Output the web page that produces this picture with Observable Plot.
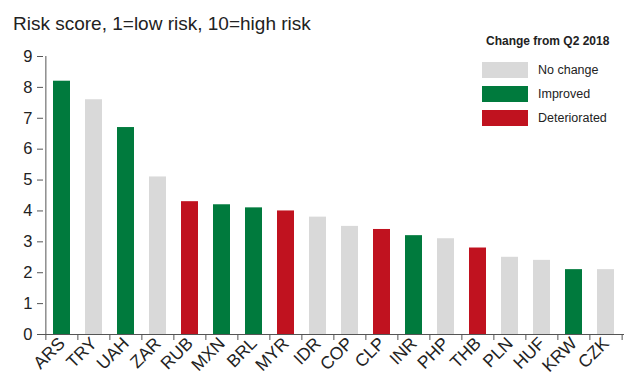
<!DOCTYPE html>
<html>
<head>
<meta charset="utf-8">
<script src="https://cdn.jsdelivr.net/npm/d3@7"></script>
<script src="https://cdn.jsdelivr.net/npm/@observablehq/plot@0.6"></script>
<style>
  body { margin: 0; background: #fff; font-family: "Liberation Sans", Arial, sans-serif; }
  #wrap { position: relative; width: 630px; height: 389px; overflow: hidden; }
  #title { position: absolute; left: 13px; top: 13px; font-size: 19px; color: #222; white-space: nowrap; }
  #chart { position: absolute; left: 0; top: 40px; }
  #legend { position: absolute; left: 482px; top: 34px; font-size: 12.5px; color: #222; }
  #legend .lt { font-weight: bold; font-size: 12px; margin-left: 4px; margin-bottom: 14px; white-space: nowrap; }
  #legend .row { display: flex; align-items: center; height: 16px; margin-bottom: 8px; white-space: nowrap; }
  #legend .sw { width: 46px; height: 16px; margin-right: 10px; }
</style>
</head>
<body>
<div id="wrap">
  <div id="title">Risk score, 1=low risk, 10=high risk</div>
  <div id="chart"></div>
  <div id="legend"></div>
</div>
<script>
const currencies = ["ARS","TRY","UAH","ZAR","RUB","MXN","BRL","MYR","IDR","COP","CLP","INR","PHP","THB","PLN","HUF","KRW","CZK"];
const scores = [8.2,7.6,6.7,5.1,4.3,4.2,4.1,4.0,3.8,3.5,3.4,3.2,3.1,2.8,2.5,2.4,2.1,2.1];
const changes = ["Improved","No change","Improved","No change","Deteriorated","Improved","Improved","Deteriorated","No change","No change","Deteriorated","Improved","No change","Deteriorated","No change","No change","Improved","No change"];
const legendTitle = "Change from Q2 2018";
const changeTypes = ["No change","Improved","Deteriorated"];
const changeColors = ["#d9d9d9","#007a3d","#c0121f"];
const yTicks = [0,1,2,3,4,5,6,7,8,9];

const data = currencies.map((c, i) => ({currency: c, score: scores[i], change: changes[i]}));

const W = 630, H = 349, ML = 43, MR = 6, MT = 16, MB = 55;
const step = (W - ML - MR) / currencies.length;
const axisColor = "#555";

const chart = Plot.plot({
  width: W, height: H,
  marginLeft: ML, marginRight: MR, marginTop: MT, marginBottom: MB,
  style: {fontFamily: "Liberation Sans, Arial, sans-serif", color: "#222", background: "#fff"},
  x: {domain: currencies, paddingInner: 0.47, paddingOuter: 0.235, label: null},
  y: {domain: [0, 9], label: null},
  color: {domain: changeTypes, range: changeColors},
  marks: [
    Plot.barY(data, {x: "currency", y: "score", fill: "change"}),
    Plot.ruleX([currencies[0]], {x: d => d, y1: 0, y2: 9, dx: -step / 2, stroke: axisColor}),
    Plot.ruleY([0], {stroke: axisColor}),
    Plot.ruleX(currencies, {x: d => d, y1: 0, y2: 0, insetBottom: -6, dx: -step / 2, stroke: axisColor}),
    Plot.ruleX([currencies[currencies.length - 1]], {x: d => d, y1: 0, y2: 0, insetBottom: -6, dx: step / 2, stroke: axisColor}),
    Plot.axisY({ticks: yTicks, tickSize: 6, tickPadding: 5, fontSize: 16.5, stroke: axisColor, tickFormat: d3.format("d")}),
    Plot.axisX({tickSize: 0, tickRotate: -45, tickPadding: 6, fontSize: 17.5})
  ]
});
document.getElementById("chart").appendChild(chart);

const lg = document.getElementById("legend");
const t = document.createElement("div");
t.className = "lt"; t.textContent = legendTitle; lg.appendChild(t);
changeTypes.forEach((k, i) => {
  const r = document.createElement("div"); r.className = "row";
  const s = document.createElement("div"); s.className = "sw"; s.style.background = changeColors[i];
  const l = document.createElement("span"); l.textContent = k;
  r.appendChild(s); r.appendChild(l); lg.appendChild(r);
});
</script>
</body>
</html>
